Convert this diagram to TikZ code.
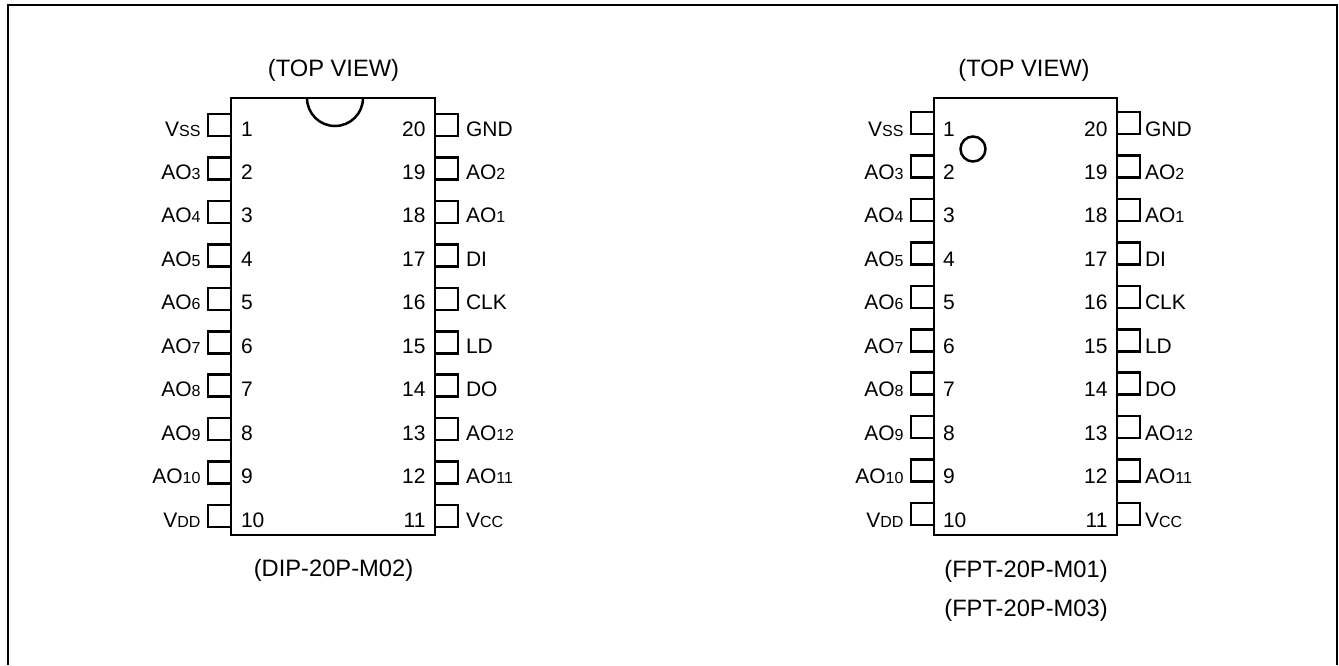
\documentclass[tikz,border=0pt]{standalone}
\usepackage{fontspec}
\setmainfont{Liberation Sans}
\newcommand{\sm}[1]{{\fontsize{16}{18}\selectfont #1}}
\tikzset{
  every node/.style={inner sep=0pt,outer sep=0pt,font=\fontsize{21}{24}\selectfont},
  chipbox/.style={draw,line width=2.5pt,minimum width=#1,minimum height=437pt,anchor=north west},
  pinbox/.style={draw,line width=2.5pt,minimum width=23pt,minimum height=22pt},
  frameline/.style={line width=2pt},
  marker/.style={line width=2.5pt},
  capt/.style={anchor=base,font=\fontsize{23.7}{27}\selectfont},
  lleft/.style={anchor=base east},
  lright/.style={anchor=base west},
}
\begin{document}
\begin{tikzpicture}[x=1pt,y=-1pt]
\useasboundingbox (0,0) rectangle (1339,665);
\coordinate (fa) at (8,665);
\coordinate (fb) at (8,5);
\coordinate (fc) at (1337,5);
\coordinate (fd) at (1337,665);
\draw[frameline] (fa) -- (fb) -- (fc) -- (fd);
% pins and labels
\def\chip#1#2#3#4#5#6#7#8{%
 % #1 name, #2 left x, #3 right x, #4 first pin centre y
 \foreach \n/\lab in {1/V\sm{SS},2/AO\sm{3},3/AO\sm{4},4/AO\sm{5},5/AO\sm{6},6/AO\sm{7},7/AO\sm{8},8/AO\sm{9},9/AO\sm{10},10/V\sm{DD}}{
   \pgfmathsetmacro{\py}{#4+(\n-1)*43.45}
   \pgfmathsetmacro{\by}{136+(\n-1)*43.45}
   \node[pinbox] (#1L\n) at (#2-11.5,\py) {};
   \node[lleft] (#1LT\n) at (#5,\by) {\lab};
   \node[lright] (#1LN\n) at (#6,\by) {\n};
 }
 \foreach \n/\lab [count=\i from 0] in {20/GND,19/AO\sm{2},18/AO\sm{1},17/DI,16/CLK,15/LD,14/DO,13/AO\sm{12},12/AO\sm{11},11/V\sm{CC}}{
   \pgfmathsetmacro{\py}{#4+\i*43.45}
   \pgfmathsetmacro{\by}{136+\i*43.45}
   \node[pinbox] (#1R\n) at (#3+11.5,\py) {};
   \node[lright] (#1RT\n) at (#8,\by) {\lab};
   \node[lleft] (#1RN\n) at (#7,\by) {\n};
 }
}
\chip{a}{231}{435}{125}{200.5}{241}{425.5}{466}
\chip{b}{934}{1117}{123}{903.5}{943}{1107.5}{1145}
\node[chipbox=204pt] (chipa) at (231,98) {};
\node[chipbox=183pt] (chipb) at (934,98) {};
\draw[marker] (307,98) arc[start angle=180,end angle=360,x radius=28,y radius=-28];
\draw[marker] (973,149) circle[radius=12.5];
\node[capt] (ta) at (333.5,76) {(TOP VIEW)};
\node[capt] (tb) at (1024,76) {(TOP VIEW)};
\node[capt] (pa) at (333.5,576) {(DIP-20P-M02)};
\node[capt] (pb1) at (1026,577) {(FPT-20P-M01)};
\node[capt] (pb2) at (1026,616) {(FPT-20P-M03)};
\end{tikzpicture}
\end{document}
